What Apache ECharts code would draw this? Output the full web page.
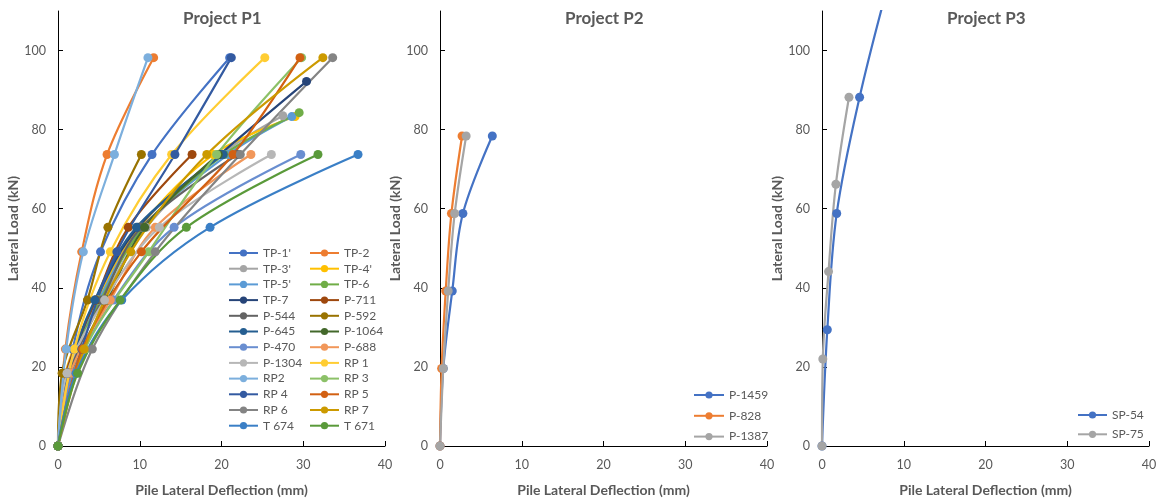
<!DOCTYPE html>
<html>
<head>
<meta charset="utf-8">
<script src="https://cdn.jsdelivr.net/npm/echarts@6.0.0/dist/echarts.min.js"></script>
<style>
  html, body { margin: 0; padding: 0; background: #fff; }
  #chart { width: 1162px; height: 499px; }
</style>
</head>
<body>
<div id="chart"></div>
<script>
// 荷载级别 (kN)
var loadsRP = [0, 24.5, 49.1, 73.7, 98.2];
var loadsP = [0, 18.4, 36.9, 55.3, 73.7];
var loadsTP3 = [0, 18.4, 36.9, 55.3, 73.7, 83.5];
var loadsTP4 = [0, 18.4, 36.9, 55.3, 73.7, 83.3];
var loadsTP5 = [0, 18.4, 36.9, 55.3, 73.7, 83.3];
var loadsTP6 = [0, 18.4, 36.9, 55.3, 73.7, 84.3];
var loadsTP7 = [0, 18.4, 36.9, 55.3, 73.7, 92.2];

// Project P1 桩顶位移 (mm)
var p1Names = ["TP-1'", 'TP-2', "TP-3'", "TP-4'", "TP-5'", 'TP-6', 'TP-7', 'P-711',
  'P-544', 'P-592', 'P-645', 'P-1064', 'P-470', 'P-688', 'P-1304', 'RP 1',
  'RP2', 'RP 3', 'RP 4', 'RP 5', 'RP 6', 'RP 7', 'T 674', 'T 671'];
var defTP1 = [0, 1.8, 5.2, 11.5, 21.0];
var defTP2 = [0, 0.9, 2.9, 6.0, 11.7];
var defTP3 = [0, 1.3, 5.5, 10.8, 20.0, 27.5];
var defTP4 = [0, 0.9, 4.8, 10.0, 19.0, 29.0];
var defTP5 = [0, 1.0, 5.0, 10.3, 20.8, 28.6];
var defTP6 = [0, 1.2, 5.2, 10.5, 20.3, 29.5];
var defTP7 = [0, 1.3, 4.6, 9.8, 19.8, 30.4];
var defP711 = [0, 1.0, 4.6, 8.6, 16.4];
var defP544 = [0, 1.4, 5.4, 10.2, 22.0];
var defP592 = [0, 0.5, 3.6, 6.1, 10.2];
var defP645 = [0, 1.2, 4.5, 9.6, 20.2];
var defP1064 = [0, 1.6, 6.0, 10.6, 19.6];
var defP470 = [0, 1.8, 6.8, 14.2, 29.7];
var defP688 = [0, 1.5, 6.4, 11.9, 23.6];
var defP1304 = [0, 1.1, 5.7, 12.4, 26.1];
var defRP1 = [0, 2.0, 6.4, 13.9, 25.3];
var defRP2 = [0, 1.0, 3.1, 6.9, 11.0];
var defRP3 = [0, 3.3, 11.1, 19.4, 29.8];
var defRP4 = [0, 2.9, 7.2, 14.3, 21.2];
var defRP5 = [0, 3.0, 10.2, 21.4, 29.6];
var defRP6 = [0, 4.2, 11.9, 22.3, 33.6];
var defRP7 = [0, 3.2, 8.9, 18.2, 32.4];
var defT674 = [0, 2.2, 7.8, 18.6, 36.7];
var defT671 = [0, 2.4, 7.6, 15.7, 31.8];

// Project P2
var loadsP2 = [0, 19.6, 39.2, 58.8, 78.4];
var defP1459 = [0, 0.4, 1.5, 2.8, 6.4];
var defP828 = [0, 0.2, 0.7, 1.4, 2.7];
var defP1387 = [0, 0.4, 1.0, 1.8, 3.2];

// Project P3
var loadsSP54 = [0, 29.4, 58.8, 88.2, 117.6];
var defSP54 = [0, 0.65, 1.8, 4.6, 8.2];
var loadsSP75 = [0, 22.0, 44.1, 66.2, 88.2];
var defSP75 = [0, 0.1, 0.8, 1.7, 3.3];

var yTicks = [0, 20, 40, 60, 80, 100];

var p1Defs = [defTP1, defTP2, defTP3, defTP4, defTP5, defTP6, defTP7, defP711,
  defP544, defP592, defP645, defP1064, defP470, defP688, defP1304, defRP1,
  defRP2, defRP3, defRP4, defRP5, defRP6, defRP7, defT674, defT671];
var p1Loads = [loadsRP, loadsRP, loadsTP3, loadsTP4, loadsTP5, loadsTP6, loadsTP7, loadsP,
  loadsP, loadsP, loadsP, loadsP, loadsP, loadsP, loadsP, loadsRP,
  loadsRP, loadsRP, loadsRP, loadsRP, loadsRP, loadsRP, loadsP, loadsP];
var p1Colors = ['#4472C4', '#ED7D31', '#A5A5A5', '#FFC000', '#5B9BD5', '#70AD47', '#264478', '#9E480E',
  '#636363', '#997300', '#255E91', '#43682B', '#698ED0', '#F1975A', '#B7B7B7', '#FFCD33',
  '#7CAFDD', '#8CC168', '#335AA1', '#D26012', '#848484', '#CC9A00', '#3A7FC6', '#5A9A3A'];

var font = 'Lato, "Liberation Sans", sans-serif';
var grey = '#595959';

function pairs(xs, ys) {
    var out = [];
    for (var i = 0; i < xs.length; i++) {
        out.push([xs[i], ys[i]]);
    }
    return out;
}

function makeSeries(name, xs, ys, color, idx) {
    return {
        name: name,
        type: 'line',
        xAxisIndex: idx,
        yAxisIndex: idx,
        data: pairs(xs, ys),
        smooth: 0.35,
        symbol: 'circle',
        symbolSize: 9,
        clip: true,
        lineStyle: { width: 2.2, color: color },
        itemStyle: { color: color },
        emphasis: { disabled: true }
    };
}

var series = [];
for (var i = 0; i < p1Names.length; i++) {
    series.push(makeSeries(p1Names[i], p1Defs[i], p1Loads[i], p1Colors[i], 0));
}
series.push(makeSeries('P-1459', defP1459, loadsP2, '#4472C4', 1));
series.push(makeSeries('P-828', defP828, loadsP2, '#ED7D31', 1));
series.push(makeSeries('P-1387', defP1387, loadsP2, '#A5A5A5', 1));
series.push(makeSeries('SP-54', defSP54, loadsSP54, '#4472C4', 2));
series.push(makeSeries('SP-75', defSP75, loadsSP75, '#A5A5A5', 2));

var gridLefts = [58, 440, 822];
var grids = [], xAxes = [], yAxes = [], titles = [];
var titleText = ['Project P1', 'Project P2', 'Project P3'];
for (var g = 0; g < 3; g++) {
    grids.push({ left: gridLefts[g], top: 11, width: 327, height: 435, containLabel: false, outerBoundsMode: 'none' });
    xAxes.push({
        type: 'value', gridIndex: g, min: 0, max: 40, interval: 10,
        name: 'Pile Lateral Deflection (mm)', nameLocation: 'middle', nameGap: 37,
        nameTextStyle: { color: grey, fontWeight: 'bold', fontSize: 14, fontFamily: font },
        axisLine: { lineStyle: { color: '#000', width: 1 } },
        axisTick: { inside: true, length: 5, lineStyle: { color: '#000' } },
        axisLabel: { color: grey, fontSize: 12.5, fontFamily: font, margin: 12 },
        splitLine: { show: false }
    });
    yAxes.push({
        type: 'value', gridIndex: g, min: 0, max: 110, interval: 20,
        name: 'Lateral Load (kN)', nameLocation: 'middle', nameGap: 33,
        nameTextStyle: { color: grey, fontWeight: 'bold', fontSize: 14, fontFamily: font },
        axisLine: { show: true, lineStyle: { color: '#000', width: 1 } },
        axisTick: { show: true, inside: true, length: 5, lineStyle: { color: '#000' }, customValues: yTicks },
        axisLabel: { color: grey, fontSize: 12.5, fontFamily: font, margin: 12, customValues: yTicks },
        splitLine: { show: false }
    });
    titles.push({
        text: titleText[g],
        left: gridLefts[g] + 163 - 43,
        top: 5,
        textStyle: { color: grey, fontSize: 17, fontWeight: 'bold', fontFamily: font }
    });
}

var legendText = { color: grey, fontSize: 12, fontFamily: font, lineHeight: 14 };
var col1 = [], col2 = [];
for (var k = 0; k < p1Names.length; k++) {
    if (k % 2 === 0) col1.push(p1Names[k]); else col2.push(p1Names[k]);
}

var option = {
    animation: false,
    title: titles,
    grid: grids,
    xAxis: xAxes,
    yAxis: yAxes,
    legend: [
        { orient: 'vertical', left: 228, top: 246, data: col1, itemWidth: 29, itemHeight: 9, itemGap: 1.7, textStyle: legendText, padding: 0 },
        { orient: 'vertical', left: 309, top: 246, data: col2, itemWidth: 29, itemHeight: 9, itemGap: 1.7, textStyle: legendText, padding: 0 },
        { orient: 'vertical', left: 693, top: 388, data: ['P-1459', 'P-828', 'P-1387'], itemWidth: 30, itemHeight: 9, itemGap: 6.8, textStyle: legendText, padding: 0 },
        { orient: 'vertical', left: 1077, top: 408, data: ['SP-54', 'SP-75'], itemWidth: 29, itemHeight: 9, itemGap: 5.3, textStyle: legendText, padding: 0 }
    ],
    series: series
};

var myChart = echarts.init(document.getElementById('chart'));
myChart.setOption(option);
</script>
</body>
</html>
